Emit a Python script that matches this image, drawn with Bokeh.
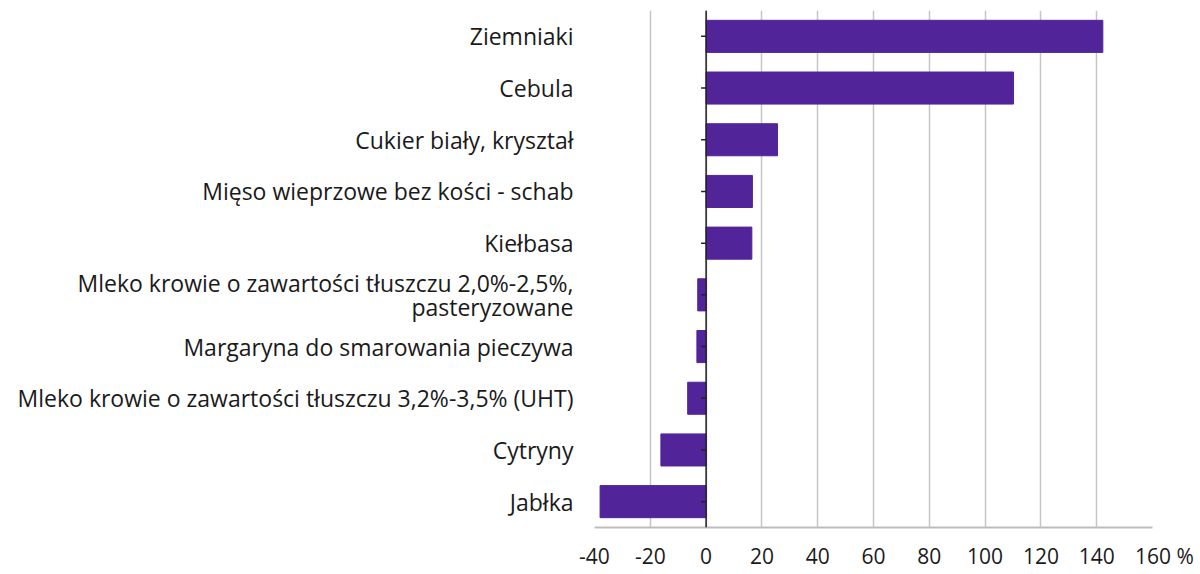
from bokeh.plotting import figure
from bokeh.models import FactorRange, Range1d, Span, FixedTicker
from bokeh.embed import file_html
from bokeh.resources import INLINE

categories = [
    "Ziemniaki",
    "Cebula",
    "Cukier biały, kryształ",
    "Mięso wieprzowe bez kości - schab",
    "Kiełbasa",
    "Mleko krowie o zawartości tłuszczu 2,0%-2,5%,\npasteryzowane",
    "Margaryna do smarowania pieczywa",
    "Mleko krowie o zawartości tłuszczu 3,2%-3,5% (UHT)",
    "Cytryny",
    "Jabłka",
]
values = [142.2, 110.2, 25.6, 16.6, 16.4, -3.0, -3.3, -6.6, -16.2, -38.0]
x_ticks = [-40, -20, 0, 20, 40, 60, 80, 100, 120, 140, 160]
x_tick_labels = ["-40", "-20", "0", "20", "40", "60", "80", "100", "120", "140", "\u2007\u2007160 %"]

FONT = "Open Sans"
BAR = "#51249a"
TICK_LEN = 1.8  # length of the small zero-axis ticks, in axis units

p = figure(
    width=1196, height=572,
    y_range=FactorRange(*categories[::-1], range_padding=0),
    x_range=Range1d(-40, 160),
    output_backend="svg", toolbar_location=None,
    min_border_left=594, min_border_right=44, min_border_top=10, min_border_bottom=45,
)
p.outline_line_color = None
p.background_fill_color = "white"

p.hbar(y=categories, right=values, left=0, height=0.62, color=BAR)

p.add_layout(Span(location=0, dimension="height", line_color="#222222", line_width=1.5))
p.segment(x0=[-TICK_LEN] * len(categories), x1=[0] * len(categories),
          y0=categories, y1=categories, line_color="#222222", line_width=1.5)

p.xaxis.ticker = FixedTicker(ticks=x_ticks)
p.xaxis.major_label_overrides = dict(zip(x_ticks, x_tick_labels))
p.xaxis.major_tick_line_color = None
p.xaxis.minor_tick_line_color = None
p.xaxis.axis_line_color = "#bdbdbd"
p.xaxis.axis_line_width = 2
p.xaxis.major_label_standoff = 8
p.xaxis.major_label_text_font = FONT
p.xaxis.major_label_text_font_size = "21px"
p.xaxis.major_label_text_color = "#1a1a1a"

p.xgrid.ticker = FixedTicker(ticks=x_ticks)
p.xgrid.grid_line_color = "#c6c6c6"
p.xgrid.grid_line_width = 1.5
p.ygrid.grid_line_color = None

p.yaxis.axis_line_color = None
p.yaxis.major_tick_line_color = None
p.yaxis.minor_tick_line_color = None
p.yaxis.major_label_standoff = 15
p.yaxis.major_label_text_font = FONT
p.yaxis.major_label_text_font_size = "23px"
p.yaxis.major_label_text_line_height = 0.77
p.yaxis.major_label_text_color = "#1a1a1a"

open("out.html", "w").write(file_html(p, INLINE))
